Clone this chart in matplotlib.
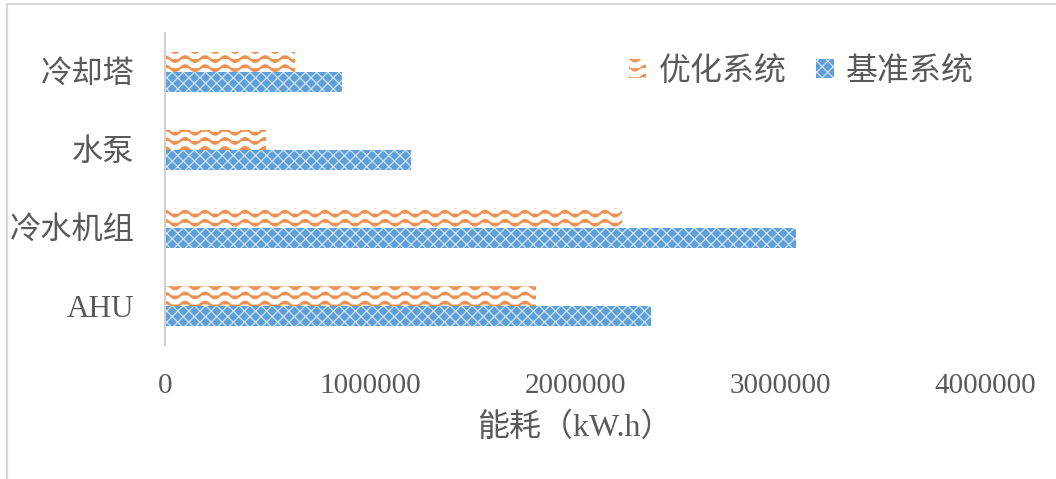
import numpy as np
import matplotlib
matplotlib.use("Agg")
import matplotlib.pyplot as plt
from matplotlib import hatch as mhatch
from matplotlib.patches import Rectangle

# Data
categories = ["冷却塔", "水泵", "冷水机组", "AHU"]
optimized = [636000, 495000, 2230000, 1810000]
baseline = [864000, 1200000, 3080000, 2370000]
series_names = ["优化系统", "基准系统"]
xticks = [0, 1000000, 2000000, 3000000, 4000000]


# Wavy hatch, hooked onto the 'O' hatch letter
class WaveHatch(mhatch.HatchPatternBase):
    def __init__(self, hatch, density):
        self.num_rows = 11 if hatch.count('O') else 0
        self.num_points = 81
        self.num_vertices = self.num_rows * self.num_points

    def set_vertices_and_codes(self, vertices, codes):
        t = np.linspace(0, 1, self.num_points)
        k = 0
        for i in range(self.num_rows):
            y0 = (i + 0.5) / self.num_rows
            vertices[k:k + self.num_points, 0] = t
            vertices[k:k + self.num_points, 1] = y0 + 0.028 * np.sin(2 * np.pi * 5 * t)
            codes[k] = mhatch.Path.MOVETO
            codes[k + 1:k + self.num_points] = mhatch.Path.LINETO
            k += self.num_points


mhatch._hatch_types = [WaveHatch if h is mhatch.LargeCircles else h
                       for h in mhatch._hatch_types]

plt.rcParams['font.family'] = ['Liberation Serif', 'Noto Sans CJK SC']
text_color = '#595959'
orange = '#F09050'
blue = '#5F9FD8'

fig = plt.figure(figsize=(10.56, 4.79), dpi=100)
ax = fig.add_axes([165 / 1056, 134 / 479, 820 / 1056, 312 / 479])

y = np.arange(len(categories))
h = 0.26

plt.rcParams['hatch.linewidth'] = 1.6
b1 = ax.barh(y - h / 2, optimized, height=h, color='white', edgecolor=orange,
             linewidth=0, hatch='O', label=series_names[0])
plt.rcParams['hatch.linewidth'] = 0.9
b2 = ax.barh(y + h / 2, baseline, height=h, color=blue, edgecolor='#cfe2f5',
             linewidth=0, hatch='xxx', label=series_names[1])

ax.set_ylim(len(categories) - 0.5, -0.5)
ax.set_xlim(0, 4000000)
ax.set_yticks(y)
ax.set_yticklabels(categories, fontsize=22.5, color=text_color)
ax.set_xticks(xticks)
ax.set_xticklabels([str(v) for v in xticks], fontsize=21, color=text_color)
ax.tick_params(axis='x', length=0, pad=20)
ax.tick_params(axis='y', length=0, pad=22)

for side in ['top', 'right', 'bottom']:
    ax.spines[side].set_visible(False)
ax.spines['left'].set_color('#d0d0d0')
ax.spines['left'].set_linewidth(1.5)

ax.set_xlabel("能耗（kW.h）", fontsize=23, color=text_color, labelpad=10)

leg = ax.legend(loc='center right', bbox_to_anchor=(1.022, 0.875), ncol=2,
                frameon=False, fontsize=23, handlelength=0.55, handleheight=0.55,
                handletextpad=0.4, columnspacing=0.9)
for t in leg.get_texts():
    t.set_color(text_color)

# Chart frame
fig.patches.append(Rectangle((7 / 1056, -0.1), 1.2, 1.1 - 4 / 479, transform=fig.transFigure,
                             fill=False, edgecolor='#d9d9d9', linewidth=1.5))

fig.savefig("out.png", dpi=100)
